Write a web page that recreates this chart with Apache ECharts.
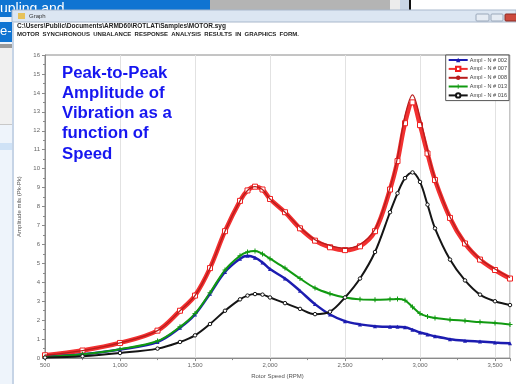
<!DOCTYPE html>
<html><head><meta charset="utf-8">
<script src="https://cdn.jsdelivr.net/npm/echarts@6/dist/echarts.min.js"></script>
<style>html,body{margin:0;padding:0;background:#fff}#c{width:516px;height:384px}</style>
</head><body><div id="c"></div>
<script>
// ---- data ----
const rpm = [500, 750, 1000, 1250, 1400, 1500, 1600, 1700, 1800, 1850, 1900, 1950, 2000, 2100, 2200, 2300, 2400, 2500, 2600, 2700, 2800, 2850, 2900, 2950, 3000, 3050, 3100, 3200, 3300, 3400, 3500, 3600];
const n002 = [0.06, 0.2, 0.45, 0.85, 1.6, 2.3, 3.4, 4.55, 5.25, 5.4, 5.3, 5.05, 4.7, 4.2, 3.55, 2.85, 2.3, 1.95, 1.78, 1.68, 1.65, 1.65, 1.63, 1.5, 1.35, 1.25, 1.15, 1.0, 0.92, 0.87, 0.82, 0.78];
const n007 = [0.15, 0.4, 0.8, 1.45, 2.5, 3.3, 4.75, 6.7, 8.3, 8.85, 9.05, 8.9, 8.4, 7.7, 6.85, 6.2, 5.85, 5.7, 5.9, 6.7, 8.9, 10.4, 12.4, 13.5, 12.3, 10.8, 9.4, 7.4, 6.05, 5.2, 4.65, 4.2];
const n008 = [0.15, 0.4, 0.8, 1.45, 2.5, 3.3, 4.75, 6.7, 8.3, 8.85, 9.05, 8.9, 8.4, 7.7, 6.9, 6.25, 5.95, 5.8, 6.0, 6.8, 9.0, 10.6, 12.8, 13.9, 12.7, 11.0, 9.5, 7.45, 6.1, 5.25, 4.7, 4.25];
const n013 = [0.06, 0.2, 0.47, 0.9, 1.65, 2.35, 3.45, 4.65, 5.4, 5.6, 5.65, 5.5, 5.25, 4.75, 4.2, 3.7, 3.4, 3.2, 3.1, 3.08, 3.1, 3.12, 3.05, 2.7, 2.35, 2.2, 2.12, 2.03, 1.97, 1.9, 1.85, 1.78];
const n016 = [0.03, 0.1, 0.27, 0.5, 0.85, 1.2, 1.8, 2.5, 3.1, 3.3, 3.38, 3.35, 3.2, 2.9, 2.6, 2.32, 2.45, 3.2, 4.2, 5.6, 7.7, 8.7, 9.5, 9.8, 9.3, 8.1, 6.85, 5.2, 4.1, 3.35, 3.0, 2.8];
const seriesNames = ['Ampl - N # 002', 'Ampl - N # 007', 'Ampl - N # 008', 'Ampl - N # 013', 'Ampl - N # 016'];
const titleLines = ['Peak-to-Peak', 'Amplitude of', 'Vibration as a', 'function of', 'Speed'];
const pathText = 'C:\\Users\\Public\\Documents\\ARMD60\\ROTLAT\\Samples\\MOTOR.syg';
const headText = 'MOTOR  SYNCHRONOUS  UNBALANCE  RESPONSE  ANALYSIS  RESULTS  IN  GRAPHICS  FORM.';
const xTitle = 'Rotor Speed (RPM)';
const yTitle = 'Amplitude mils (Pk-Pk)';

const pairs = v => rpm.map((r, i) => [r, v[i]]);
const plus = 'path://M4,0L6,0L6,4L10,4L10,6L6,6L6,10L4,10L4,6L0,6L0,4L4,4Z';

const chart = echarts.init(document.getElementById('c'));
const bg = [
  {type:'rect', shape:{x:0,y:0,width:210,height:12}, style:{fill:'#0f74d2'}},
  {type:'rect', shape:{x:210,y:0,width:180,height:12}, style:{fill:'#b4b4b4'}},
  {type:'rect', shape:{x:390,y:0,width:10,height:12}, style:{fill:'#ececec'}},
  {type:'rect', shape:{x:400,y:0,width:9,height:12}, style:{fill:'#c9d6e6'}},
  {type:'rect', shape:{x:409,y:0,width:2,height:12}, style:{fill:'#111'}},
  {type:'text', x:0, y:2, style:{text:'upling and', fill:'#fff', font:'14px "Liberation Sans", Arial'}},
  {type:'rect', shape:{x:0,y:12,width:12,height:372}, style:{fill:'#eef4fb'}},
  {type:'rect', shape:{x:0,y:12,width:12,height:5}, style:{fill:'#0f74d2'}},
  {type:'rect', shape:{x:0,y:22,width:12,height:20}, style:{fill:'#0f74d2'}},
  {type:'text', x:0, y:25, style:{text:'e-B', fill:'#fff', font:'13px "Liberation Sans", Arial'}},
  {type:'rect', shape:{x:0,y:44,width:12,height:4}, style:{fill:'#9a9a9a'}},
  {type:'rect', shape:{x:0,y:48,width:12,height:76}, style:{fill:'#f0f0f0'}},
  {type:'rect', shape:{x:0,y:124,width:12,height:1}, style:{fill:'#c8c8c8'}},
  {type:'rect', shape:{x:0,y:143,width:12,height:7}, style:{fill:'#cfe2f6'}},
  // window
  {type:'rect', shape:{x:12,y:10,width:504,height:12}, style:{fill:'#dce6f2', stroke:'#a9b8cc', lineWidth:1}},
  {type:'rect', shape:{x:12,y:22,width:2,height:362}, style:{fill:'#c6d4e6'}},
  {type:'rect', shape:{x:18,y:13,width:7,height:6}, style:{fill:'#e7c25a'}},
  {type:'text', x:29, y:13, style:{text:'Graph', fill:'#333', font:'6px "Liberation Sans", Arial'}},
  {type:'rect', shape:{x:476,y:14,width:13,height:7, r:1}, style:{fill:'#e6ecf4', stroke:'#9aa8ba'}},
  {type:'rect', shape:{x:491,y:14,width:12,height:7, r:1}, style:{fill:'#e6ecf4', stroke:'#9aa8ba'}},
  {type:'rect', shape:{x:505,y:14,width:12,height:7, r:1}, style:{fill:'#cc4a3e', stroke:'#8c2a22'}},
  {type:'text', x:17, y:23, style:{text:pathText, fill:'#222', font:'bold 6.5px "Liberation Sans", Arial'}},
  {type:'text', x:17, y:31, style:{text:headText, fill:'#222', font:'bold 6px "Liberation Sans", Arial'}}
];

chart.setOption({
  backgroundColor:'#ffffff',
  animation:false,
  graphic: bg,
  title:{
    text: titleLines.join('\n'), left:62, top:63, padding:0,
    textStyle:{color:'#1616f0', fontSize:16.8, fontWeight:'bold', lineHeight:20.2, fontFamily:'"Liberation Sans", Arial'}
  },
  legend:{
    data: seriesNames, orient:'vertical', right:7, top:55,
    itemWidth:19, itemHeight:5.5, itemGap:2.7, padding:[2,2,2,2],
    borderColor:'#555', borderWidth:1, backgroundColor:'#fff',
    textStyle:{fontSize:5.6, color:'#444', fontFamily:'"Liberation Sans", Arial', padding:[0,0,0,-3]}
  },
  grid:{left:45, top:55, right:6, bottom:23, show:true, borderColor:'#8a8a8a', borderWidth:1, backgroundColor:'transparent'},
  xAxis:{
    type:'value', min:500, max:3600, interval:500,
    name:xTitle, nameLocation:'middle', nameGap:12,
    nameTextStyle:{fontSize:6, color:'#555', fontFamily:'"Liberation Sans", Arial'},
    axisLine:{lineStyle:{color:'#8a8a8a'}},
    axisTick:{length:3, lineStyle:{color:'#8a8a8a'}},
    minorTick:{show:true, splitNumber:2, length:2, lineStyle:{color:'#8a8a8a'}},
    axisLabel:{fontSize:6, color:'#666', margin:4, showMaxLabel:false, formatter:v=>v.toLocaleString('en-US'), fontFamily:'"Liberation Sans", Arial'},
    splitLine:{show:true, lineStyle:{color:'#e2e2e2'}}
  },
  yAxis:{
    type:'value', min:0, max:16, interval:1,
    name:yTitle, nameLocation:'middle', nameGap:14, nameRotate:90,
    nameTextStyle:{fontSize:6, color:'#555', fontFamily:'"Liberation Sans", Arial'},
    axisLine:{show:true, lineStyle:{color:'#8a8a8a'}},
    axisTick:{show:true, length:3, lineStyle:{color:'#8a8a8a'}},
    minorTick:{show:true, splitNumber:2, length:2, lineStyle:{color:'#8a8a8a'}},
    axisLabel:{fontSize:6, color:'#666', margin:5, fontFamily:'"Liberation Sans", Arial'},
    splitLine:{show:false}
  },
  series:[
    {name:seriesNames[0], type:'line', data:pairs(n002), smooth:0.35, color:'#1c1cb0', symbol:'triangle', symbolSize:4, lineStyle:{width:2.5, color:'#1c1cb0'}, z:3},
    {name:seriesNames[1], type:'line', data:pairs(n007), smooth:0.35, color:'#f02020', symbol:'rect', symbolSize:5, lineStyle:{width:4.5, color:'#f23030'}, itemStyle:{color:'#fff', borderColor:'#f02020', borderWidth:1}, z:2},
    {name:seriesNames[2], type:'line', data:pairs(n008), smooth:0.35, color:'#b81c1c', symbol:'none', lineStyle:{width:1.3, color:'#b81c1c'}, z:4},
    {name:seriesNames[3], type:'line', data:pairs(n013), smooth:0.35, color:'#119a11', symbol:plus, symbolSize:5, lineStyle:{width:2, color:'#119a11'}, z:3},
    {name:seriesNames[4], type:'line', data:pairs(n016), smooth:0.35, color:'#151515', symbol:'circle', symbolSize:3.5, lineStyle:{width:2, color:'#151515'}, itemStyle:{color:'#fff', borderColor:'#151515', borderWidth:1}, z:3}
  ]
});
</script></body></html>
